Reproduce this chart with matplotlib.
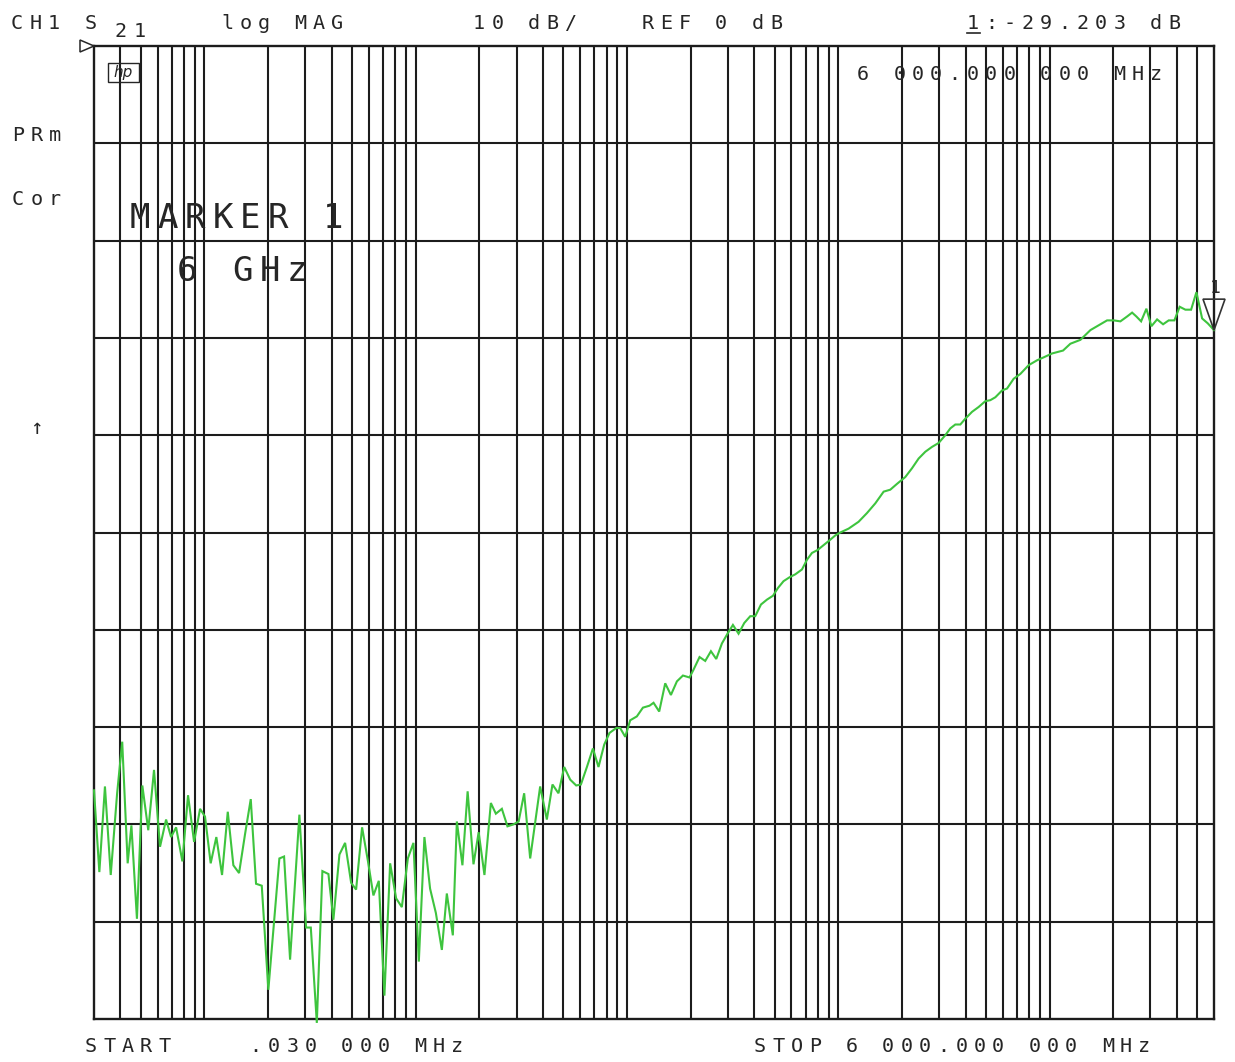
import matplotlib
matplotlib.use("Agg")
import matplotlib.pyplot as plt
from matplotlib.patches import Polygon, Rectangle
from matplotlib.ticker import NullLocator

# ---------------- data ----------------
freq_mhz = [
    0.030, 0.0318, 0.0338, 0.0360, 0.0386, 0.0408, 0.0433, 0.0451, 0.0479, 0.0508,
    0.0542, 0.0577, 0.0616, 0.0658, 0.0695, 0.0734, 0.0786, 0.0836, 0.0893, 0.0953,
    0.1006, 0.107, 0.1138, 0.1211, 0.1289, 0.137, 0.1458, 0.1556, 0.1656, 0.1754,
    0.1867, 0.2006, 0.2262, 0.2381, 0.2542, 0.2813, 0.3026, 0.3186, 0.3402, 0.3615,
    0.3861, 0.4075, 0.4352, 0.4630, 0.4945, 0.5221, 0.5572, 0.5931, 0.6303, 0.6685,
    0.7107, 0.7564, 0.8074, 0.8593, 0.9174, 0.9751, 1.034, 1.099, 1.169, 1.245,
    1.329, 1.403, 1.498, 1.565, 1.663, 1.760, 1.876, 1.985, 2.114, 2.267,
    2.394, 2.556, 2.717, 2.900, 3.069, 3.259, 3.480, 3.880, 4.173, 4.437,
    4.737, 5.043, 5.383, 5.746, 6.049, 6.458, 6.894, 7.327, 7.798, 8.262,
    8.886, 9.282, 9.805, 10.35, 11.13, 11.89, 12.78, 13.35, 14.20, 15.16,
    16.13, 17.22, 18.39, 19.76, 20.64, 22.04, 23.45, 24.95, 26.44, 28.13,
    29.90, 31.71, 33.72, 35.88, 38.31, 40.44, 43.05, 45.94, 49.06, 51.81,
    55.06, 58.78, 62.55, 67.29, 71.07, 75.06, 79.77, 85.16, 90.91, 96.75,
    102.2, 111.9, 124.7, 136.7, 149.7, 163.9, 176.2, 189.6, 207.5, 223.2,
    239.9, 258.1, 277.7, 298.4, 321.0, 338.9, 357.9, 378.1, 399.2, 429.4,
    461.5, 496.6, 524.3, 553.7, 595.8, 629.1, 676.0, 727.3, 796.3, 872.6,
    937.4, 1027, 1158, 1254, 1399, 1560, 1707, 1871, 2011, 2163,
    2327, 2458, 2575, 2711, 2872, 3033, 3227, 3445, 3662, 3896,
    4128, 4393, 4675, 4954, 5271, 5603, 6000,
]
s21_db = [
    -76.5, -84.9, -76.1, -85.2, -76.8, -71.5, -84.0, -80.1, -89.7, -76.0,
    -80.6, -74.4, -82.3, -79.5, -81.3, -80.3, -83.8, -77.0, -81.8, -78.4,
    -79.2, -84.0, -81.3, -85.2, -78.7, -84.2, -85.0, -81.0, -77.4, -86.1,
    -86.3, -97.0, -83.5, -83.3, -93.9, -79.0, -90.6, -90.6, -100.4, -84.8,
    -85.1, -89.8, -83.1, -81.9, -86.0, -86.7, -80.3, -83.7, -87.3, -85.8,
    -97.6, -84.0, -87.6, -88.5, -83.5, -81.9, -94.1, -81.3, -86.6, -89.1,
    -92.9, -87.1, -91.4, -79.7, -84.2, -76.6, -84.1, -80.8, -85.2, -77.8,
    -78.9, -78.4, -80.2, -80.0, -79.7, -76.8, -83.5, -76.1, -79.5, -75.9,
    -76.8, -74.1, -75.4, -76.0, -75.9, -74.1, -72.2, -74.1, -71.8, -70.6,
    -70.1, -70.1, -71.0, -69.3, -68.9, -68.0, -67.8, -67.5, -68.4, -65.5,
    -66.7, -65.3, -64.7, -64.9, -64.1, -62.8, -63.2, -62.2, -63.0, -61.4,
    -60.4, -59.5, -60.4, -59.3, -58.6, -58.6, -57.4, -56.9, -56.5, -55.7,
    -55.0, -54.6, -54.3, -53.8, -52.8, -52.1, -51.8, -51.3, -50.8, -50.3,
    -50.0, -49.6, -48.9, -48.0, -47.0, -45.8, -45.6, -45.0, -44.3, -43.4,
    -42.4, -41.7, -41.2, -40.8, -40.0, -39.3, -38.9, -38.9, -38.3, -37.6,
    -37.1, -36.5, -36.4, -36.1, -35.4, -35.2, -34.2, -33.7, -32.8, -32.3,
    -32.0, -31.6, -31.3, -30.6, -30.2, -29.2, -28.7, -28.2, -28.2, -28.3,
    -27.8, -27.4, -27.8, -28.3, -27.0, -28.8, -28.1, -28.6, -28.2, -28.2,
    -26.8, -27.1, -27.1, -25.3, -28.0, -28.5, -29.2,
]
start_mhz = 0.03
stop_mhz = 6000.0
ref_db = 0.0
scale_db = 10.0
n_div = 10
marker_mhz = 6000.0
marker_db = -29.203

header_texts = [("CH1 S", 12, 29), ("21", 116, 37), ("log MAG", 222, 29),
                ("10 dB/", 474, 29), ("REF 0 dB", 643, 29), ("1:-29.203 dB", 968, 29),
                ("6 000.000 000 MHz", 858, 80), ("PRm", 13, 141), ("Cor", 13, 205),
                ("START    .030 000 MHz", 86, 1052),
                ("STOP 6 000.000 000 MHz", 755, 1052)]
big_texts = [("MARKER 1", 131, 228), ("6 GHz", 178, 281)]

# ---------------- figure ----------------
W, H = 1235, 1062
fig = plt.figure(figsize=(W / 100, H / 100), dpi=100)
fig.patch.set_facecolor("white")
L, R, T, B = 94, 1214, 46, 1019
ax = fig.add_axes([L / W, 1 - B / H, (R - L) / W, (B - T) / H])
ax.set_xscale("log")
ax.set_xlim(start_mhz, stop_mhz)
ax.set_ylim(ref_db - n_div * scale_db, ref_db)
ax.xaxis.set_major_locator(NullLocator())
ax.xaxis.set_minor_locator(NullLocator())
ax.yaxis.set_major_locator(NullLocator())
ax.yaxis.set_minor_locator(NullLocator())

GRID = "#1c1c1c"
GLW = 1.5
for s in ax.spines.values():
    s.set_color(GRID)
    s.set_linewidth(1.7)

grid_f = [m * 10.0 ** e for e in range(-2, 4) for m in range(1, 10)]
for f in grid_f:
    if start_mhz * 1.001 < f < stop_mhz * 0.999:
        ax.axvline(f, color=GRID, lw=GLW, zorder=1)
for k in range(1, n_div):
    ax.axhline(ref_db - k * scale_db, color=GRID, lw=GLW, zorder=1)

ax.plot(freq_mhz, s21_db, color="#3ec43e", lw=1.5, zorder=3, clip_on=False,
        solid_joinstyle="miter")

# ---------------- text ----------------
TXT = "#262626"
MONO = "DejaVu Sans Mono"


def spaced_text(s, x0, yb, pitch, size):
    for i, ch in enumerate(s):
        if ch != " ":
            fig.text((x0 - 1 + i * pitch) / W, 1 - yb / H, ch, fontsize=size,
                     family=MONO, color=TXT, ha="left", va="baseline")


for s, x0, yb in header_texts:
    spaced_text(s, x0, yb, 18.3, 14.5)
for s, x0, yb in big_texts:
    spaced_text(s, x0, yb, 27.5, 24.5)

fig.text(36 / W, 1 - 428 / H, "\u2191", fontsize=15, family=MONO, color=TXT,
         ha="center", va="center")

# underline under the marker number in the header
fig.add_artist(plt.Line2D([967 / W, 980 / W], [1 - 33 / H, 1 - 33 / H],
                          color=TXT, lw=1.2, transform=fig.transFigure))

# hp logo
fig.add_artist(Rectangle((108 / W, 1 - 82 / H), 31 / W, 19 / H, fill=False,
                         edgecolor=TXT, lw=1.0, transform=fig.transFigure))
fig.text(123.5 / W, 1 - 72.5 / H, "hp", fontsize=11, style="italic", color=TXT,
         ha="center", va="center", family="DejaVu Sans")

# reference level indicator
fig.add_artist(Polygon([[80 / W, 1 - 40 / H], [94 / W, 1 - 46 / H], [80 / W, 1 - 52 / H]],
                       closed=True, fill=False, edgecolor=TXT, lw=1.1,
                       transform=fig.transFigure))

# marker triangle at the marker point
mx, my = ax.transData.transform((marker_mhz, marker_db))
mx_px, my_px = mx, H - my
fig.add_artist(Polygon([[(mx_px - 11) / W, 1 - (my_px - 31) / H],
                        [(mx_px + 11) / W, 1 - (my_px - 31) / H],
                        [mx_px / W, 1 - my_px / H]],
                       closed=True, fill=False, edgecolor="#333333", lw=1.2,
                       transform=fig.transFigure, clip_on=False))
fig.text((mx_px + 1) / W, 1 - (my_px - 37) / H, "1", fontsize=13, family=MONO,
         color=TXT, ha="center", va="baseline")

fig.savefig("out.png", dpi=100, facecolor="white")
